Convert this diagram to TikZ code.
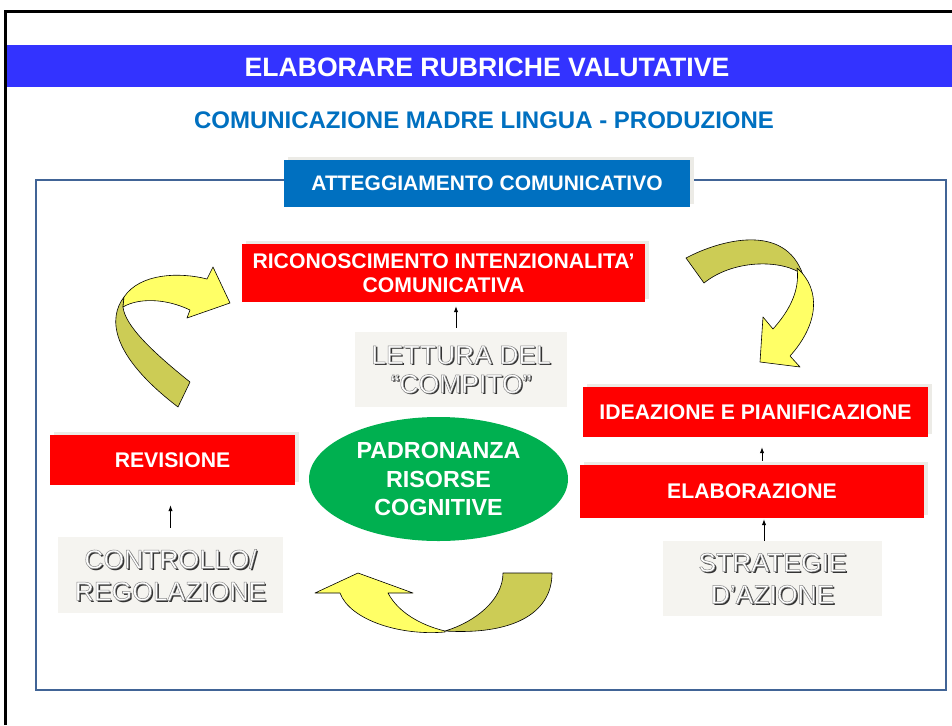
\documentclass[tikz,border=0pt]{standalone}
\usepackage{fontspec}
\setmainfont{Liberation Sans}
\usetikzlibrary{arrows.meta,calc,shadows,shapes.geometric}
\definecolor{bandblue}{RGB}{51,51,255}
\definecolor{subblue}{RGB}{0,112,192}
\definecolor{framecol}{RGB}{65,100,150}
\definecolor{boxred}{RGB}{255,0,0}
\definecolor{ellgreen}{RGB}{0,176,80}
\definecolor{paleg}{RGB}{245,244,240}
\definecolor{shadowg}{RGB}{236,235,230}
\definecolor{lightyel}{RGB}{255,255,102}
\definecolor{darkyel}{RGB}{204,204,85}
\newcommand\outlinedtext[1]{\special{pdf:literal direct 2 Tr 0.5 w 0.55 0.55 0.55 RG}#1\special{pdf:literal direct 0 Tr}}
\begin{document}
\begin{tikzpicture}[x=1pt,y=-1pt,
  redbox/.style={fill=boxred, text=white, font=\fontsize{21.2}{25}\selectfont\bfseries,
    align=center, inner sep=0pt, general shadow={fill=shadowg, shadow xshift=4pt, shadow yshift=3pt}},
  graybox/.style={fill=paleg, inner sep=0pt},
  embfont/.style={font=\fontsize{26.5}{32}\selectfont, align=center, inner sep=0pt},
  embshadow/.style={embfont, text=black!80},
  embtext/.style={embfont, text=white},
  conn/.style={-{Latex[length=6pt,width=4.5pt]}, line width=1pt, black},
  ribbon/.style={draw=black, line width=0.6pt, line join=round}]
\useasboundingbox (0,0) rectangle (952,725);
\fill[white] (0,0) rectangle (952,725);
% outer frame
\draw[line width=3pt] (5,725) -- (5,12) -- (952,12);
% title band
\fill[bandblue] (7,45) rectangle (952,87);
\node[text=white, font=\fontsize{26.6}{30}\selectfont\bfseries, inner sep=0pt] (title) at (487,67) {ELABORARE RUBRICHE VALUTATIVE};
\node[text=subblue, font=\fontsize{24}{28}\selectfont\bfseries, inner sep=0pt] (subtitle) at (484,120) {COMUNICAZIONE MADRE LINGUA - PRODUZIONE};
% frame box
\draw[framecol, line width=2pt] (36,180) rectangle (946,690);
% header
\node[fill=subblue, text=white, font=\fontsize{21}{25}\selectfont\bfseries, inner sep=0pt,
  minimum width=406pt, minimum height=47pt,
  general shadow={fill=shadowg, shadow xshift=4pt, shadow yshift=3pt}] (header) at (487,183.5) {ATTEGGIAMENTO COMUNICATIVO};
% curved arrows
\draw[ribbon, fill=darkyel] (124,297) .. controls (108,318) and (110,355) .. (178,407) -- (190,382) .. controls (150,350) and (125,325) .. (123,307) -- cycle;
\draw[ribbon, fill=lightyel] (124,297) .. controls (140,273) and (180,272) .. (207,279) -- (213,267) -- (230,303) -- (187,318) -- (190,310) .. controls (165,298) and (138,298) .. (123,307) -- cycle;
\draw[ribbon, fill=darkyel] (686,258) .. controls (720,240) and (785,222) .. (803,275) .. controls (785,260) and (735,258) .. (704,283) -- cycle;
\draw[ribbon, fill=lightyel] (797,268) .. controls (822,290) and (818,325) .. (790,356) -- (800,367) -- (760,362) -- (763,317) -- (773,329) .. controls (790,310) and (800,290) .. (797,268) -- cycle;
\draw[ribbon, fill=darkyel] (503,573) -- (552,573) .. controls (552,615) and (510,635) .. (445,631) .. controls (475,622) and (503,600) .. (503,573) -- cycle;
\draw[ribbon, fill=lightyel] (445,632) .. controls (400,636) and (350,620) .. (340,593) -- (315,593) -- (358,573) -- (413,593) -- (388,593) .. controls (398,612) and (420,625) .. (445,631) -- cycle;
% red boxes
\node[redbox, minimum width=403pt, minimum height=58pt] (rico) at (443.5,273) {RICONOSCIMENTO INTENZIONALITA’\\[-1pt]COMUNICATIVA};
\node[redbox, minimum width=245pt, minimum height=50pt] (revisione) at (172.5,460) {REVISIONE};
\node[redbox, minimum width=345pt, minimum height=50pt] (ideazione) at (755.5,412) {IDEAZIONE E PIANIFICAZIONE};
\node[redbox, minimum width=344pt, minimum height=53pt] (elab) at (752,491.5) {ELABORAZIONE};
% gray boxes with embossed text
\node[graybox, minimum width=212pt, minimum height=75pt] (lettura) at (461,369.5) {};
\node[embshadow] (letturaS) at ($(lettura.center)+(1.6,1.6)$) {LETTURA DEL\\[-3pt]“COMPITO”};
\node[embtext] (letturaT) at (lettura.center) {\outlinedtext{LETTURA DEL}\\[-3pt]\outlinedtext{“COMPITO”}};
\node[graybox, minimum width=225pt, minimum height=76pt] (controllo) at (170.5,575) {};
\node[embshadow] (controlloS) at ($(controllo.center)+(1.6,1.6)$) {CONTROLLO/\\REGOLAZIONE};
\node[embtext] (controlloT) at (controllo.center) {\outlinedtext{CONTROLLO/}\\\outlinedtext{REGOLAZIONE}};
\node[graybox, minimum width=219pt, minimum height=75pt] (strategie) at (772.5,578.5) {};
\node[embshadow] (strategieS) at ($(strategie.center)+(1.6,1.6)$) {STRATEGIE\\D’AZIONE};
\node[embtext] (strategieT) at (strategie.center) {\outlinedtext{STRATEGIE}\\\outlinedtext{D’AZIONE}};
% ellipse
\node[ellipse, fill=ellgreen, text=white, minimum width=259pt, minimum height=124pt, inner sep=0pt,
  font=\fontsize{23.3}{28.5}\selectfont\bfseries, align=center] (padro) at (438.5,479) {PADRONANZA\\RISORSE\\COGNITIVE};
% connectors
\coordinate (a1) at ($(lettura.north)+(-5,0)$);
\draw[conn, shorten <=4pt, shorten >=4pt] (a1) -- (a1 |- rico.south);
\draw[conn, shorten <=9pt, shorten >=20pt] (controllo.north) -- (controllo.north |- revisione.south);
\coordinate (a2) at ($(elab.north)+(10,0)$);
\draw[conn, shorten <=4pt, shorten >=10pt] (a2) -- (a2 |- ideazione.south);
\coordinate (a3) at ($(strategie.north)+(-8.5,0)$);
\draw[conn, shorten >=1pt] (a3) -- (a3 |- elab.south);
\end{tikzpicture}
\end{document}
